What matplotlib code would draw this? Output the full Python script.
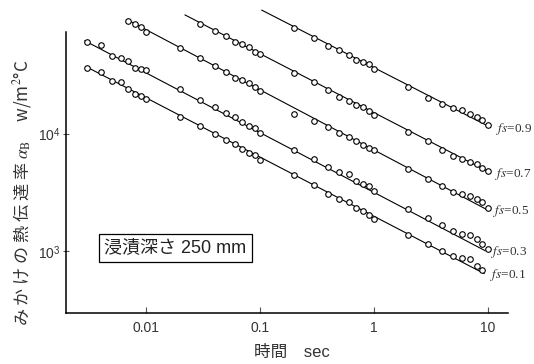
import numpy as np
import matplotlib
matplotlib.use("Agg")
import matplotlib.pyplot as plt
from matplotlib.ticker import FixedLocator, NullLocator, FixedFormatter

plt.rcParams['font.family'] = ['Liberation Sans', 'Noto Sans CJK JP', 'DejaVu Sans']
plt.rcParams['mathtext.fontset'] = 'stix'

# measured points (time sec, apparent heat transfer coefficient w/m2C)
x_short = [0.003, 0.004, 0.005, 0.006, 0.007, 0.008, 0.009, 0.01]
x_d2 = [0.02, 0.03, 0.04, 0.05, 0.06, 0.07, 0.08, 0.09, 0.1]
x_d1 = [0.2, 0.3, 0.4, 0.5, 0.6, 0.7, 0.8, 0.9, 1.0]
x_d0 = [2, 3, 4, 5, 6, 7, 8, 9, 10]

fs01_x = x_short + x_d2 + x_d1 + x_d0[:8]
fs01_y = [35800, 33100, 28100, 27500, 23800, 21900, 21000, 19600,
          13800, 11500, 9860, 8770, 8110, 7450, 6840, 6540, 5930,
          4420, 3630, 3080, 2760, 2610, 2340, 2190, 2040, 1890,
          1360, 1140, 994, 901, 879, 861, 755, 695]

fs03_x = x_short + x_d2 + x_d1 + x_d0
fs03_y = [59600, 56500, 46100, 44200, 41500, 36000, 35400, 34800,
          24100, 19300, 16900, 14900, 13700, 12600, 11700, 11100, 10100,
          7210, 6040, 5200, 4670, 4500, 3980, 3760, 3560, 3250,
          2300, 1910, 1660, 1470, 1410, 1380, 1280, 1160, 1050]

fs05_x = x_short[4:] + x_d2 + x_d1 + x_d0
fs05_y = [91000, 85300, 80900, 73300,
          53800, 43500, 37600, 33200, 29500, 28300, 26700, 24700, 23100,
          14800, 12900, 11400, 10100, 9300, 8650, 7950, 7600, 7250,
          5040, 4140, 3560, 3180, 3080, 2930, 2800, 2610, 2310]

fs07_x = x_d2[1:] + x_d1 + x_d0
fs07_y = [85300, 74800, 67000, 59500, 57300, 54000, 49600, 47100,
          32800, 27500, 23400, 20300, 19000, 17400, 16700, 15600, 14300,
          10300, 8650, 7310, 6410, 6130, 5730, 5480, 5140, 4780]

fs09_x = x_d1 + x_d0
fs09_y = [79400, 65200, 55700, 51300, 46500, 42100, 40300, 38700, 35300,
          24700, 20100, 17700, 16600, 15800, 14800, 13800, 13000, 11800]

# fitted straight lines (end points)
fit_x = [[0.003, 9.3], [0.0029, 9.5], [0.0068, 10], [0.022, 10.4], [0.104, 10.6]]
fit_y = [[36900, 646], [61500, 1010], [93100, 2240], [102000, 4680], [112000, 11300]]
fs_labels = ['0.1', '0.3', '0.5', '0.7', '0.9']

series = [(fs01_x, fs01_y), (fs03_x, fs03_y), (fs05_x, fs05_y),
          (fs07_x, fs07_y), (fs09_x, fs09_y)]

fig = plt.figure(figsize=(5.34, 3.64), dpi=100)
ax = fig.add_axes([0.1236, 0.1401, 0.8277, 0.8462])
ax.set_xscale('log')
ax.set_yscale('log')
ax.set_xlim(0.00198, 15.1)
ax.set_ylim(298, 124000)

for (sx, sy), lx, ly, lab in zip(series, fit_x, fit_y, fs_labels):
    ax.plot(lx, ly, color='black', lw=0.8, zorder=2)
    ax.plot(sx, sy, 'o', ms=4.0, mfc='white', mec='black', mew=0.8, zorder=3)
    ax.annotate(r'$fs$=' + lab, xy=(lx[1], ly[1]), xytext=(4, -1),
                textcoords='offset points', va='center', ha='left',
                fontsize=9.5, family=['Liberation Serif'], color='#333333')

for s in ['top', 'right']:
    ax.spines[s].set_visible(False)
ax.spines['left'].set_bounds(298, 73300)
ax.spines['left'].set_linewidth(1.1)
ax.spines['bottom'].set_linewidth(1.1)

ax.xaxis.set_major_locator(FixedLocator([0.01, 0.1, 1, 10]))
ax.xaxis.set_major_formatter(FixedFormatter(['0.01', '0.1', '1', '10']))
ax.xaxis.set_minor_locator(NullLocator())
ax.yaxis.set_major_locator(FixedLocator([1000, 10000]))
ax.yaxis.set_major_formatter(FixedFormatter([r'10$^{\mathdefault{3}}$', r'10$^{\mathdefault{4}}$']))
ax.yaxis.set_minor_locator(NullLocator())
ax.tick_params(axis='x', direction='in', length=4, width=0.8, labelsize=10,
               labelcolor='#333333', color='#555555', pad=6)
ax.tick_params(axis='y', direction='inout', length=4, width=0.8, labelsize=10,
               labelcolor='#333333', color='#555555', pad=2)

fig.text(0.547, 0.033, '時間\u3000sec', ha='center', va='center', fontsize=12,
         color='#333333')
fig.text(0.042, 0.47, 'み か け の 熱 伝 達 率 ' + r'$\alpha_{\rm B}$' + '     w/m$^2$°C',
         rotation=90, ha='center', va='center', fontsize=12.3, color='#333333',
         family=['Noto Sans CJK JP', 'DejaVu Sans'])

ax.text(0.328, 0.3187, '浸漬深さ 250 mm', transform=fig.transFigure,
        ha='center', va='center', fontsize=13, color='#222222',
        bbox=dict(boxstyle='square,pad=0.3', fc='white', ec='black', lw=0.9))

fig.savefig('out.png', dpi=100)
